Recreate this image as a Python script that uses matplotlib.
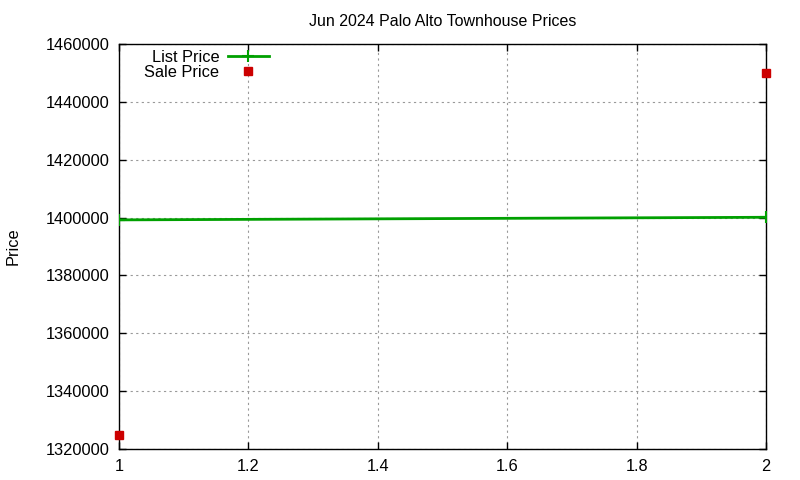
import matplotlib
matplotlib.use("Agg")
import matplotlib.pyplot as plt
from matplotlib.ticker import FormatStrFormatter

x_vals = [1, 2]
list_price = [1399200, 1400100]
sale_price = [1325000, 1450000]
x_ticks = [1, 1.2, 1.4, 1.6, 1.8, 2]
y_ticks = [1320000, 1340000, 1360000, 1380000, 1400000, 1420000, 1440000, 1460000]

plt.rcParams['font.family'] = ['Liberation Sans', 'DejaVu Sans']

fig = plt.figure(figsize=(8, 4.8), dpi=100)
ax = fig.add_axes([119/800, 1-449/480, (766-119)/800, (449-44)/480])

ax.plot(x_vals, list_price, color='#00a000', lw=2, marker='+', ms=9, mew=1.5,
        label='List Price', zorder=3)
ax.plot(x_vals, sale_price, color='#cc0000', ls='none', marker='s', ms=5.5,
        label='Sale Price', zorder=4, clip_on=False)

ax.set_xlim(1, 2)
ax.set_ylim(1320000, 1460000)
ax.set_xticks(x_ticks)
ax.set_yticks(y_ticks)
ax.xaxis.set_major_formatter(FormatStrFormatter('%g'))
ax.yaxis.set_major_formatter(FormatStrFormatter('%d'))
ax.tick_params(direction='in', top=True, right=True, length=5, width=1,
               labelsize=11.8, pad=7, colors='black')
for s in ax.spines.values():
    s.set_linewidth(1)
ax.grid(True, color='#999999', linestyle=(0, (2, 3)), linewidth=0.8)
ax.set_axisbelow(True)

ax.set_ylabel('Price', fontsize=11.8, labelpad=18)
ax.set_title('Jun 2024 Palo Alto Townhouse Prices', fontsize=11.5, pad=13)

leg = ax.legend(loc='upper left', markerfirst=False, frameon=False, fontsize=11.8,
                bbox_to_anchor=(0.024, 1.01), handlelength=2.5, borderaxespad=0.2,
                labelspacing=0.0, handletextpad=0.5)

fig.savefig('out.png', dpi=100)
